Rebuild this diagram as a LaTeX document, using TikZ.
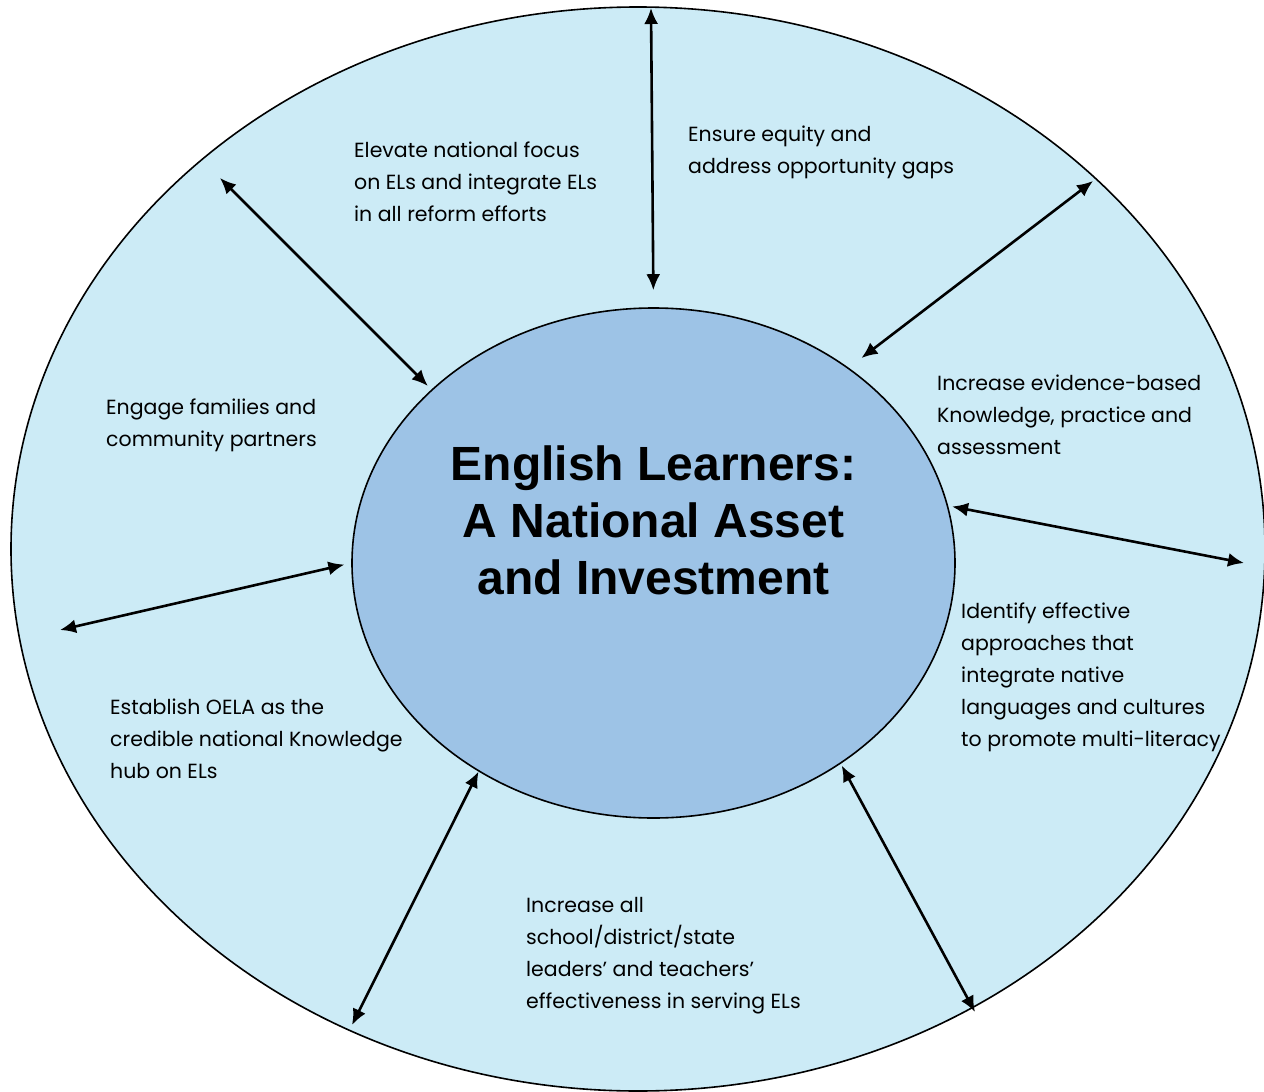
\documentclass[tikz,border=0pt]{standalone}
\usepackage{fontspec}
\setmainfont{Poppins}
\newfontfamily\titlefont{Liberation Sans}
\usetikzlibrary{shapes.geometric,arrows.meta}

\definecolor{ringblue}{RGB}{204,235,246}
\definecolor{coreblue}{RGB}{157,195,230}

\tikzset{
  goal/.style={anchor=base west, align=left, inner sep=0pt,
    font=\fontsize{20.5pt}{32pt}\selectfont},
  link/.style={{Latex[length=16pt,width=14pt]}-{Latex[length=16pt,width=14pt]}, line width=2.6pt}
}

\begin{document}
\begin{tikzpicture}[x=1pt, y=-1pt]
  \useasboundingbox (0,0) rectangle (1264,1092);

  % Ringen
  \node[ellipse, draw, line width=1.6pt, fill=ringblue, minimum width=1254pt, minimum height=1084pt, inner sep=0pt] (ring) at (638,549) {};
  \node[ellipse, draw, line width=1.6pt, fill=coreblue, minimum width=603pt, minimum height=510pt, inner sep=0pt] (core) at (653.5,563) {};

  % Titel
  \node[align=center, inner sep=0pt, font=\titlefont\bfseries\fontsize{48pt}{57pt}\selectfont] (title) at (653.5,520)
    {English Learners:\\A National Asset\\and Investment};

  % Doelen (base = laatste regel)
  \node[goal] (focus) at (354,221) {Elevate national focus\\on ELs and integrate ELs\\in all reform efforts};
  \node[goal] (equity) at (688,173) {Ensure equity and\\address opportunity gaps};
  \node[goal] (evidence) at (937,454) {Increase evidence-based\\Knowledge, practice and\\assessment};
  \node[goal] (native) at (961,746) {Identify effective\\approaches that\\integrate native\\languages and cultures\\to promote multi-literacy};
  \node[goal] (families) at (106,446) {Engage families and\\community partners};
  \node[goal] (hub) at (110,778) {Establish OELA as the\\credible national Knowledge\\hub on ELs};
  \node[goal] (leaders) at (526,1008) {Increase all\\school/district/state\\leaders’ and teachers’\\effectiveness in serving ELs};

  % Eindpunten op de buitenring
  \coordinate (top) at (651,8);
  \coordinate (ul) at (220,178);
  \coordinate (ur) at (1093,181);
  \coordinate (r) at (1244,563);
  \coordinate (l) at (60,630);
  \coordinate (ll) at (352,1025);
  \coordinate (lr) at (975,1012);

  % Pijlen
  \foreach \ang/\pt/\cut in {90/top/17, 142/ul/5, 45/ur/16, 11/r/4, 180/l/7, 230/ll/0, 313/lr/2}
    \draw[link, shorten <=\cut pt] (core.\ang) -- (\pt);
\end{tikzpicture}
\end{document}
